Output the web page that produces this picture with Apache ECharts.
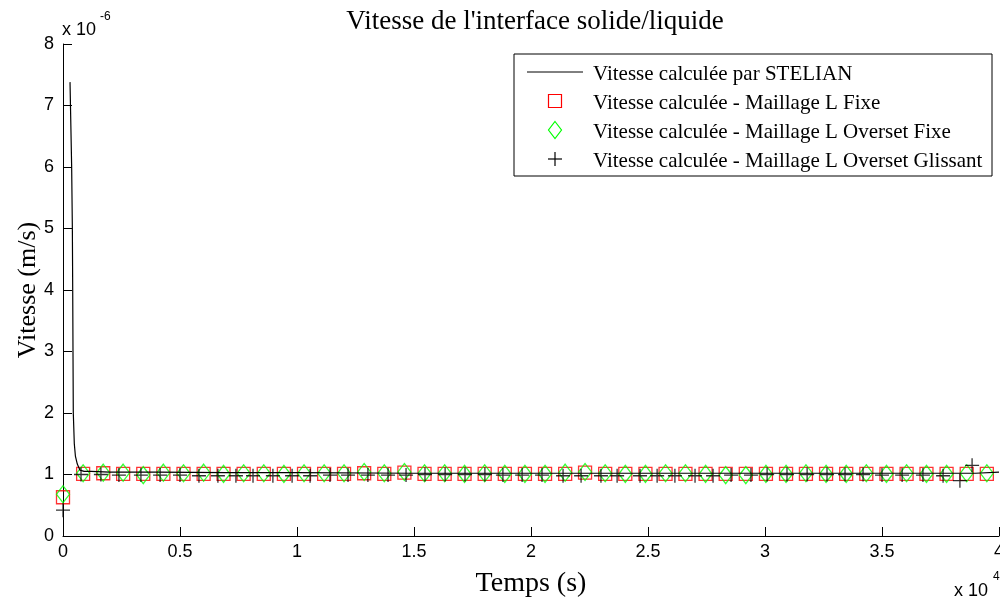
<!DOCTYPE html>
<html>
<head>
<meta charset="utf-8">
<script src="https://cdn.jsdelivr.net/npm/echarts@6/dist/echarts.min.js"></script>
<style>html,body{margin:0;padding:0;background:#fff}#c{width:1000px;height:601px}</style>
</head>
<body>
<div id="c"></div>
<script>
// ---- data ----
const titleText = "Vitesse de l'interface solide/liquide";
const seriesNames = [
  "Vitesse calculée par STELIAN",
  "Vitesse calculée - Maillage L Fixe",
  "Vitesse calculée - Maillage L Overset Fixe",
  "Vitesse calculée - Maillage L Overset Glissant"
];
// STELIAN line (time s, velocity x1e-6 m/s)
const lineTimes = [300, 370, 400, 415, 427, 440, 483, 530, 611, 726, 900, 1200, 2000, 4000, 7000, 10000, 15000, 20000, 25000, 30000, 35000, 38000, 39000, 40000];
const lineVals  = [7.38, 6.0, 5.0, 4.0, 3.0, 2.0, 1.5, 1.3, 1.17, 1.07, 1.05, 1.05, 1.04, 1.04, 1.03, 1.03, 1.02, 1.02, 1.02, 1.02, 1.02, 1.02, 1.02, 1.04];
// sample times for the L Fixe / L Overset Fixe markers
const markTimes = [0, 860, 1720, 2570, 3430, 4290, 5150, 6010, 6860, 7720, 8580, 9440, 10300, 11160, 12010, 12870, 13730, 14590, 15450, 16310, 17160, 18020, 18880, 19740, 20600, 21460, 22310, 23170, 24030, 24890, 25750, 26600, 27460, 28320, 29180, 30040, 30900, 31750, 32610, 33470, 34330, 35190, 36050, 36900, 37760, 38620, 39480];
const fixeVals  = [0.63, 1.01, 1.02, 1.01, 1.01, 1.01, 1.01, 1.01, 1.01, 1.01, 1.01, 1.01, 1.01, 1.01, 1.01, 1.02, 1.01, 1.03, 1.01, 1.01, 1.01, 1.01, 1.01, 1.01, 1.01, 1.01, 1.03, 1.01, 1.01, 1.01, 1.01, 1.01, 1.01, 1.01, 1.01, 1.01, 1.01, 1.01, 1.01, 1.01, 1.01, 1.01, 1.01, 1.01, 1.01, 1.01, 1.01];
const oversetFixeVals = [0.68, 1.02, 1.03, 1.03, 0.99, 1.03, 1.02, 1.03, 1.01, 1.02, 1.02, 1.01, 1.02, 1.02, 1.02, 1.04, 1.02, 1.04, 1.02, 1.02, 1.01, 1.02, 1.01, 1.01, 1.01, 1.03, 1.04, 1.02, 1.01, 1.01, 1.02, 1.02, 1.01, 0.99, 0.99, 1.01, 1.01, 1.02, 1.01, 1.01, 1.02, 1.01, 1.02, 1.01, 1.01, 1.02, 1.02];
// L Overset Glissant markers
const glissTimes = [0, 770, 1620, 2390, 3330, 4150, 5000, 5810, 6620, 7390, 8120, 8970, 9790, 10560, 11410, 12180, 13030, 13890, 14660, 15470, 16330, 17180, 18030, 18800, 19620, 20470, 21370, 22140, 22990, 23680, 24660, 25390, 26150, 27010, 27780, 28550, 29400, 30090, 30940, 31800, 32650, 33420, 34190, 35000, 35860, 36750, 37610, 38330, 38850];
const glissVals  = [0.42, 1.0, 1.0, 0.99, 0.99, 0.99, 0.99, 0.98, 0.98, 0.98, 0.98, 0.98, 0.98, 0.98, 0.99, 0.99, 0.99, 0.99, 0.99, 1.0, 1.0, 1.0, 1.0, 0.99, 0.99, 0.99, 0.98, 0.98, 0.98, 0.98, 0.98, 0.98, 0.98, 0.98, 0.98, 0.99, 0.99, 1.0, 1.0, 1.0, 1.0, 1.0, 1.0, 0.99, 0.99, 0.99, 0.98, 0.9, 1.15];
const xTickDivisor = 10000;

// ---- chart ----
const zip = (a, b) => a.map((v, i) => [v, b[i]]);
const serif = "'Liberation Serif', 'Times New Roman', serif";
const sans = "'Liberation Sans', Arial, sans-serif";
const chart = echarts.init(document.getElementById('c'), null, {renderer: 'canvas'});

// manual legend (box + samples + texts)
const LX = 514, LY = 54, LW = 478, LH = 122, rowY0 = 72, rowGap = 29, sampleX = 555, textX = 593;
const legendGraphics = [
  {type: 'rect', shape: {x: LX, y: LY, width: LW, height: LH}, style: {fill: '#fff', stroke: '#000', lineWidth: 1}, z: 5},
  {type: 'line', shape: {x1: 527, y1: rowY0, x2: 583, y2: rowY0}, style: {stroke: '#000', lineWidth: 1}, z: 6},
  {type: 'rect', shape: {x: sampleX - 6.5, y: rowY0 + rowGap - 6.5, width: 13, height: 13}, style: {fill: 'none', stroke: '#ff0000', lineWidth: 1.2}, z: 6},
  {type: 'polygon', shape: {points: [[sampleX, rowY0 + 2 * rowGap - 8.5], [sampleX + 6.5, rowY0 + 2 * rowGap], [sampleX, rowY0 + 2 * rowGap + 8.5], [sampleX - 6.5, rowY0 + 2 * rowGap]]}, style: {fill: 'none', stroke: '#00ff00', lineWidth: 1.2}, z: 6},
  {type: 'line', shape: {x1: sampleX - 7, y1: rowY0 + 3 * rowGap, x2: sampleX + 7, y2: rowY0 + 3 * rowGap}, style: {stroke: '#000', lineWidth: 1.2}, z: 6},
  {type: 'line', shape: {x1: sampleX, y1: rowY0 + 3 * rowGap - 7, x2: sampleX, y2: rowY0 + 3 * rowGap + 7}, style: {stroke: '#000', lineWidth: 1.2}, z: 6}
];
seriesNames.forEach((n, i) => legendGraphics.push({
  type: 'text', x: textX, y: rowY0 + 2 + i * rowGap,
  style: {text: n, font: '21px ' + serif, fill: '#000', textVerticalAlign: 'middle', verticalAlign: 'middle'}, z: 6
}));

chart.setOption({
  animation: false,
  backgroundColor: '#fff',
  title: {
    text: titleText, left: 530, top: 3, textAlign: 'center',
    textStyle: {fontFamily: serif, fontSize: 27, fontWeight: 'normal', color: '#000'}
  },
  grid: {left: 63, right: 1, top: 44, bottom: 65, containLabel: false, outerBoundsMode: 'none'},
  xAxis: {
    type: 'value', min: 0, max: 40000, interval: 5000,
    name: 'Temps (s)', nameLocation: 'middle', nameGap: 34, nameMoveOverlap: false,
    nameTextStyle: {fontFamily: serif, fontSize: 28, color: '#000'},
    axisLine: {show: true, lineStyle: {color: '#000', width: 1}},
    axisTick: {show: true, inside: true, length: 9, lineStyle: {color: '#000'}},
    axisLabel: {fontFamily: sans, fontSize: 18, color: '#000', margin: 7,
      formatter: v => String(v / xTickDivisor)},
    splitLine: {show: false}
  },
  yAxis: {
    type: 'value', min: 0, max: 8, interval: 1,
    name: 'Vitesse (m/s)', nameLocation: 'middle', nameGap: 22, nameMoveOverlap: false,
    nameTextStyle: {fontFamily: serif, fontSize: 26, color: '#000'},
    axisLine: {show: true, lineStyle: {color: '#000', width: 1}},
    axisTick: {show: true, inside: true, length: 9, lineStyle: {color: '#000'}},
    axisLabel: {fontFamily: sans, fontSize: 18, color: '#000', margin: 9},
    splitLine: {show: false}
  },
  graphic: legendGraphics.concat([
    {type: 'text', x: 62, y: 21, style: {text: 'x 10', font: '18px ' + sans, fill: '#000'}, z: 10},
    {type: 'text', x: 100, y: 11, style: {text: '-6', font: '12px ' + sans, fill: '#000'}, z: 10},
    {type: 'text', x: 954, y: 582, style: {text: 'x 10', font: '18px ' + sans, fill: '#000'}, z: 10},
    {type: 'text', x: 993, y: 571, style: {text: '4', font: '12px ' + sans, fill: '#000'}, z: 10}
  ]),
  series: [
    {
      name: seriesNames[0], type: 'line', data: zip(lineTimes, lineVals),
      symbol: 'none', lineStyle: {color: '#000', width: 1.2}, itemStyle: {color: '#000'}, z: 4
    },
    {
      name: seriesNames[1], type: 'scatter', data: zip(markTimes, fixeVals), clip: false,
      symbol: 'rect', symbolSize: 13,
      itemStyle: {color: 'rgba(0,0,0,0)', borderColor: '#ff0000', borderWidth: 1.3}, z: 3
    },
    {
      name: seriesNames[2], type: 'scatter', data: zip(markTimes, oversetFixeVals), clip: false,
      symbol: 'diamond', symbolSize: [13, 17],
      itemStyle: {color: 'rgba(0,0,0,0)', borderColor: '#00ff00', borderWidth: 1.3}, z: 3
    },
    {
      name: seriesNames[3], type: 'scatter', data: zip(glissTimes, glissVals), clip: false,
      symbol: 'path://M0,10L20,10M10,0L10,20', symbolSize: 14,
      itemStyle: {color: 'rgba(0,0,0,0)', borderColor: '#000', borderWidth: 1.3}, z: 3
    }
  ]
});
</script>
</body>
</html>
